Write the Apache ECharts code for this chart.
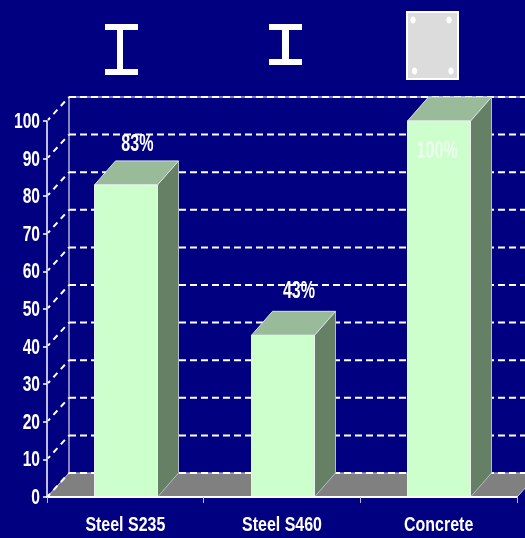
<!DOCTYPE html>
<html><head><meta charset="utf-8">
<style>html,body{margin:0;padding:0;background:#000080;overflow:hidden}#c{width:525px;height:538px}</style>
<script src="https://cdn.jsdelivr.net/npm/echarts@6/dist/echarts.min.js"></script>
</head><body><div id="c"></div>
<script>
const categories = ['Steel S235', 'Steel S460', 'Concrete'];
const values = [83, 43, 100];
const barLabels = ['83%', '43%', '100%'];
const yTicks = [0, 10, 20, 30, 40, 50, 60, 70, 80, 90, 100];

const DX = 22, DY = -24, BAR_DX = 21, BAR_W = 63, FONT = '"Liberation Sans",Arial,sans-serif';
const LABEL_SHIFT = [[12, -41], [17, -44], [-1.5, 30]];
const chart = echarts.init(document.getElementById('c'), null, {renderer: 'canvas'});

function narrowText(text, x, y, size, sx, fill, align) {
  return {type: 'text', x: x, y: y, scaleX: sx, z2: 50,
    style: {text: text, fill: fill, fontFamily: FONT, fontWeight: 'bold', fontSize: size,
      align: align, verticalAlign: 'middle'}};
}

function wall(params, api) {
  const cs = params.coordSys, v = api.value(0);
  const y = api.coord([0, v])[1], x0 = cs.x, x1 = cs.x + cs.width;
  const dash = {stroke: '#fff', lineWidth: 2, lineDash: [7, 4]};
  const kids = [];
  if (v === 0) {
    kids.push({type: 'polygon', shape: {points: [[x0, y], [x0 + DX, y + DY], [x1 + DX, y + DY], [x1, y]]},
      style: {fill: '#808080', stroke: '#c8c8d8', lineWidth: 1}});
    kids.push({type: 'line', shape: {x1: x0 + DX, y1: y + DY, x2: x0 + DX, y2: cs.y + DY},
      style: {stroke: '#b0b0d0', lineWidth: 1.5}});
  }
  if (v === 100) {
    kids.push({type: 'line', shape: {x1: x0 + DX, y1: y + DY, x2: x1 + DX, y2: y + DY},
      style: {stroke: '#8080c0', lineWidth: 2}});
  }
  kids.push({type: 'line', shape: {x1: x0 + DX, y1: y + DY, x2: x1 + DX, y2: y + DY}, style: dash});
  kids.push({type: 'line', shape: {x1: x0 + 1, y1: y - 1, x2: x0 + DX, y2: y + DY},
    style: {stroke: '#fff', lineWidth: 2, lineDash: [6, 5], lineDashOffset: 3}});
  kids.push(narrowText(String(v), x0 - 7, y + 1, 22, 0.71, '#fff', 'right'));
  return {type: 'group', children: kids};
}

function bar3d(params, api) {
  const i = api.value(0), v = api.value(1);
  const top = api.coord([i, v]), base = api.coord([i, 0]);
  const xl = Math.round(top[0] - BAR_W / 2) + 0.5, xr = xl + BAR_W, yt = top[1], yb = base[1];
  return {type: 'group', children: [
    {type: 'polygon', shape: {points: [[xr, yt], [xr + BAR_DX, yt + DY], [xr + BAR_DX, yb + DY], [xr, yb]]},
      style: {fill: '#668066', stroke: '#b4bcc8', lineWidth: 1}},
    {type: 'polygon', shape: {points: [[xl, yt], [xl + BAR_DX, yt + DY], [xr + BAR_DX, yt + DY], [xr, yt]]},
      style: {fill: '#99BB99', stroke: '#d8e4e8', lineWidth: 1}},
    {type: 'rect', shape: {x: xl, y: yt, width: BAR_W, height: yb - yt},
      style: {fill: '#CCFFCC', stroke: '#e8f0f0', lineWidth: 1}}
  ]};
}

function labels(params, api) {
  const i = api.value(0), v = api.value(1);
  const top = api.coord([i, v]), base = api.coord([i, 0]);
  const s = LABEL_SHIFT[i];
  return {type: 'group', children: [
    narrowText(barLabels[i], top[0] + s[0], top[1] + s[1], 24, 0.67, v >= 100 ? '#ecffec' : '#fff', 'center'),
    narrowText(categories[i], base[0], base[1] + 28, 21, 0.76, '#fff', 'center')
  ]};
}

const shapes = [];
function beam(x0, x1, webL, webR, t0, t1, b0, b1) {
  const f = {fill: '#fff'};
  shapes.push({type: 'rect', shape: {x: x0, y: t0, width: x1 - x0, height: t1 - t0}, style: f});
  shapes.push({type: 'rect', shape: {x: webL, y: t1, width: webR - webL, height: b0 - t1}, style: f});
  shapes.push({type: 'rect', shape: {x: x0, y: b0, width: x1 - x0, height: b1 - b0}, style: f});
}
beam(105, 138, 117, 123, 24, 30, 69, 75);
beam(269, 302, 282, 289, 24, 30, 59, 65);
shapes.push({type: 'rect', shape: {x: 407, y: 12, width: 51, height: 67},
  style: {fill: '#DCDCDC', stroke: '#fff', lineWidth: 2}});
[[413, 20], [449, 20], [414.5, 71], [451, 71]].forEach(p => shapes.push({type: 'ellipse',
  shape: {cx: p[0], cy: p[1], rx: 2.7, ry: 3.5}, style: {fill: '#fff'}}));

chart.setOption({
  backgroundColor: '#000080',
  animation: false,
  graphic: shapes,
  grid: {left: 47, top: 121, width: 470, height: 376},
  xAxis: {type: 'category', data: categories, z: 10,
    axisLine: {lineStyle: {color: '#fff', width: 2}},
    axisTick: {show: true, length: 6, lineStyle: {color: '#b8b8d8', width: 1}},
    axisLabel: {show: false},
    splitLine: {show: false}},
  yAxis: {type: 'value', min: 0, max: 100, interval: 10, z: 10,
    axisLine: {show: true, lineStyle: {color: '#fff', width: 1.5}},
    axisTick: {show: true, length: 4, lineStyle: {color: '#fff', width: 1.5}},
    axisLabel: {show: false},
    splitLine: {show: false}},
  series: [
    {type: 'custom', name: 'wall', data: yTicks.map(v => [v]), renderItem: wall, z: 1, silent: true,
      encode: {y: 0}},
    {type: 'custom', name: 'bars', data: values.map((v, i) => [i, v]), renderItem: bar3d, z: 2, silent: true,
      encode: {x: 0, y: 1}},
    {type: 'custom', name: 'labels', data: values.map((v, i) => [i, v]), renderItem: labels, z: 3, silent: true,
      encode: {x: 0, y: 1}}
  ]
});
</script></body></html>
